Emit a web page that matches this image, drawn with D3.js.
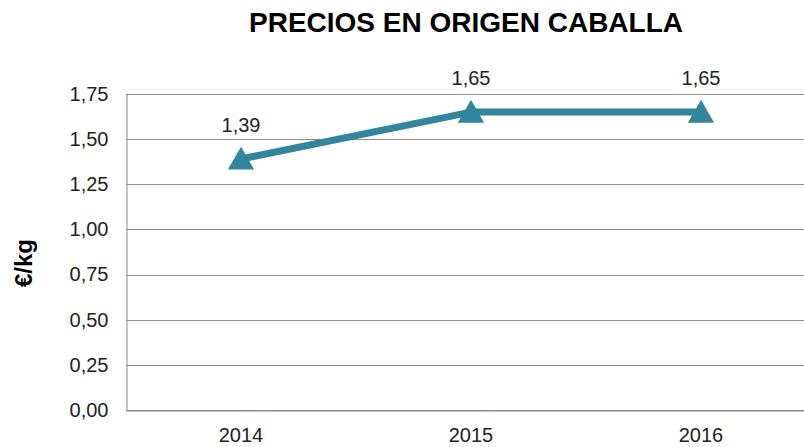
<!DOCTYPE html>
<html>
<head>
<meta charset="utf-8">
<script src="https://cdn.jsdelivr.net/npm/d3@7"></script>
<style>
  html, body { margin: 0; padding: 0; background: #fff; }
  svg { display: block; font-family: "Liberation Sans", Arial, sans-serif; }
</style>
</head>
<body>
<div id="chart"></div>
<script>
const years = ['2014', '2015', '2016'];
const prices = [1.39, 1.65, 1.65];
const yTicks = [0, 0.25, 0.5, 0.75, 1, 1.25, 1.5, 1.75];

const width = 804, height = 447;
const margin = { top: 94, right: -12, bottom: 37, left: 126 };

const svg = d3.select('#chart').append('svg')
  .attr('width', width)
  .attr('height', height);

const x = d3.scaleBand()
  .domain(years)
  .range([margin.left, width - margin.right]);

const y = d3.scaleLinear()
  .domain([0, 1.75])
  .range([height - margin.bottom, margin.top]);

const fmt = v => d3.format('.2f')(v).replace('.', ',');

// gridlines
svg.append('g')
  .selectAll('line')
  .data(yTicks)
  .join('line')
  .attr('x1', margin.left)
  .attr('x2', width - margin.right)
  .attr('y1', d => Math.round(y(d)) + 0.5)
  .attr('y2', d => Math.round(y(d)) + 0.5)
  .attr('stroke', '#8c8c8c')
  .attr('stroke-width', 1);

// y axis
const yAxis = svg.append('g')
  .attr('transform', `translate(${margin.left + 0.5},0)`)
  .call(d3.axisLeft(y).tickValues(yTicks).tickFormat(fmt).tickSize(0).tickPadding(18));
yAxis.select('.domain').attr('stroke', '#8c8c8c');
yAxis.selectAll('text').attr('font-size', 20).attr('fill', '#222').attr('font-family', null);

// x axis
const xAxis = svg.append('g')
  .attr('transform', `translate(0,${Math.round(y(0)) + 0.5})`)
  .call(d3.axisBottom(x).tickSize(0).tickPadding(17));
xAxis.select('.domain').attr('stroke', '#8c8c8c');
xAxis.selectAll('text').attr('font-size', 20).attr('fill', '#222').attr('font-family', null);

// line
const cx = d => x(d) + x.bandwidth() / 2;
const pts = years.map((yr, i) => ({ yr, v: prices[i] }));

svg.append('path')
  .datum(pts)
  .attr('fill', 'none')
  .attr('stroke', '#31859c')
  .attr('stroke-width', 7)
  .attr('stroke-linejoin', 'round')
  .attr('d', d3.line().x(d => cx(d.yr)).y(d => y(d.v)));

// markers
svg.append('g')
  .selectAll('path')
  .data(pts)
  .join('path')
  .attr('transform', d => `translate(${cx(d.yr)},${y(d.v) + 3})`)
  .attr('d', d3.symbol(d3.symbolTriangle, 300))
  .attr('fill', '#31859c');

// data labels
svg.append('g')
  .selectAll('text')
  .data(pts)
  .join('text')
  .attr('x', d => cx(d.yr))
  .attr('y', d => y(d.v) - 27)
  .attr('text-anchor', 'middle')
  .attr('font-size', 20)
  .attr('fill', '#222')
  .text(d => fmt(d.v));

// title
svg.append('text')
  .attr('x', 466)
  .attr('y', 32)
  .attr('text-anchor', 'middle')
  .attr('font-size', 28)
  .attr('font-weight', 'bold')
  .text('PRECIOS EN ORIGEN CABALLA');

// y label
svg.append('text')
  .attr('transform', 'translate(32,263) rotate(-90)')
  .attr('text-anchor', 'middle')
  .attr('font-size', 24)
  .attr('font-weight', 'bold')
  .text('€/kg');
</script>
</body>
</html>
